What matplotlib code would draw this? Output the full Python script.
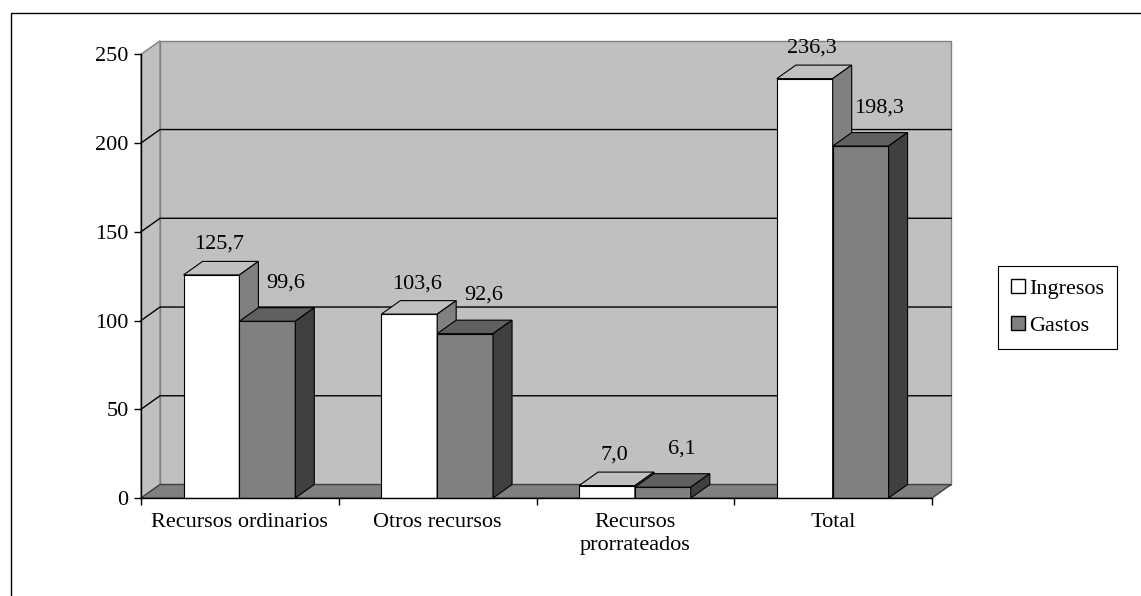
import matplotlib.pyplot as plt
from matplotlib.patches import Polygon, Rectangle, Patch

categories = ["Recursos ordinarios", "Otros recursos", "Recursos\nprorrateados", "Total"]
ingresos = [125.7, 103.6, 7.0, 236.3]
gastos = [99.6, 92.6, 6.1, 198.3]
y_ticks = [0, 50, 100, 150, 200, 250]
series_names = ["Ingresos", "Gastos"]

# colours: front, top, side
ingresos_faces = ("#FFFFFF", "#C0C0C0", "#808080")
gastos_faces = ("#808080", "#606060", "#404040")
wall_color = "#C0C0C0"
floor_color = "#808080"

plt.rcParams['font.family'] = ['Liberation Serif', 'DejaVu Serif']
FS = 16

fig = plt.figure(figsize=(11.41, 5.96), dpi=100)
ax = fig.add_axes([0.1236, 0.1644, 0.6933, 0.7445])
ax.set_xlim(0, len(categories))
ax.set_ylim(0, max(y_ticks))

# depth of the fake 3D box, given in pixels and turned into data units
pos = ax.get_position()
px_per_x = pos.width * fig.get_figwidth() * fig.dpi / len(categories)
px_per_y = pos.height * fig.get_figheight() * fig.dpi / max(y_ticks)
dx = 19 / px_per_x
dy = 13.5 / px_per_y
xmax = len(categories)
ymax = max(y_ticks)

# back wall, side wall and floor
ax.add_patch(Rectangle((dx, dy), xmax, ymax, fc=wall_color, ec="#808080",
                       lw=1, zorder=1, clip_on=False))
ax.add_patch(Polygon([(0, 0), (dx, dy), (dx, ymax + dy), (0, ymax)],
                     fc=wall_color, ec="#808080", lw=1, zorder=1, clip_on=False))
for t in y_ticks[1:-1]:
    ax.plot([0, dx, xmax + dx], [t, t + dy, t + dy], color="black", lw=1,
            zorder=1.5, clip_on=False)
ax.add_patch(Polygon([(0, 0), (xmax, 0), (xmax + dx, dy), (dx, dy)],
                     fc=floor_color, ec="#404040", lw=1, zorder=2, clip_on=False))


def bar3d(x0, w, h, faces, z):
    front, top, side = faces
    ax.bar(x0, h, width=w, align="edge", color=front, edgecolor="black",
           lw=0.8, zorder=z)
    ax.add_patch(Polygon([(x0, h), (x0 + w, h), (x0 + w + dx, h + dy), (x0 + dx, h + dy)],
                         fc=top, ec="black", lw=0.8, zorder=z, clip_on=False))
    ax.add_patch(Polygon([(x0 + w, 0), (x0 + w + dx, dy), (x0 + w + dx, h + dy), (x0 + w, h)],
                         fc=side, ec="black", lw=0.8, zorder=z, clip_on=False))


def fmt(v):
    return f"{v:.1f}".replace(".", ",")


w = 0.2825
z = 3
for i, (a, b) in enumerate(zip(ingresos, gastos)):
    x_in = i + 0.215
    x_ga = x_in + w
    bar3d(x_in, w, a, ingresos_faces, z)
    bar3d(x_ga, w, b, gastos_faces, z + 0.1)
    z += 1
    ax.annotate(fmt(a), xy=(x_in + w / 2 + dx / 2, a + dy), xytext=(-2, 17),
                textcoords="offset pixels", ha="center", va="center",
                fontsize=FS, zorder=20)
    ax.annotate(fmt(b), xy=(x_ga + w / 2 + dx / 2, b + dy), xytext=(9, 25),
                textcoords="offset pixels", ha="center", va="center",
                fontsize=FS, zorder=20)

# axes
for s in ["top", "right"]:
    ax.spines[s].set_visible(False)
for s in ["left", "bottom"]:
    ax.spines[s].set_color("black")
    ax.spines[s].set_linewidth(1)
    ax.spines[s].set_zorder(10)
ax.set_yticks(y_ticks)
ax.tick_params(axis="y", length=5, width=1, pad=4, labelsize=FS)
ax.set_xticks(range(len(categories) + 1))
ax.set_xticklabels([])
ax.set_xticks([i + 0.5 for i in range(len(categories))], minor=True)
ax.set_xticklabels(categories, minor=True, linespacing=1.25)
ax.tick_params(axis="x", which="major", length=5, width=1)
ax.tick_params(axis="x", which="minor", length=0, pad=11, labelsize=FS)
ax.set_facecolor("none")

leg = fig.legend(handles=[Patch(fc=ingresos_faces[0], ec="black"),
                          Patch(fc=gastos_faces[0], ec="black")],
                 labels=series_names, loc="center left",
                 bbox_to_anchor=(0.8747, 0.484), fontsize=FS, frameon=True,
                 fancybox=False, edgecolor="black", framealpha=1,
                 handlelength=0.6, handleheight=0.6, handletextpad=0.2,
                 borderpad=0.6, labelspacing=0.75, borderaxespad=0)
leg.get_frame().set_linewidth(0.8)

# chart area border
fig.add_artist(Rectangle((11 / 1141, -0.05), 1.1, 1 - 13 / 596 + 0.05,
                         transform=fig.transFigure, fill=False, ec="black", lw=1))

fig.savefig("out.png", dpi=100)
